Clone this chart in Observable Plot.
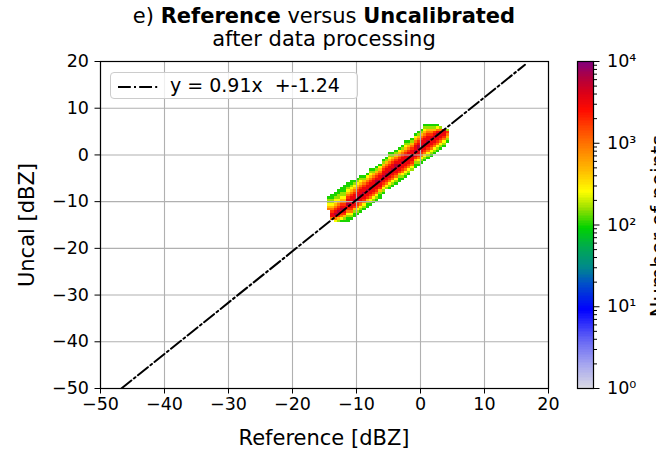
<!DOCTYPE html>
<html><head><meta charset="utf-8">
<script src="https://cdn.jsdelivr.net/npm/d3@7"></script>
<script src="https://cdn.jsdelivr.net/npm/@observablehq/plot@0.6"></script>
<style>
html,body{margin:0;padding:0;background:#fff;}
#wrap{position:relative;width:656px;height:450px;overflow:hidden;font-family:"DejaVu Sans",sans-serif;color:#000;}
.abs{position:absolute;white-space:pre;}
#main,#cbar{position:absolute;top:0;}
#main{left:0;}
#cbar{left:560px;}
</style></head><body><div id="wrap"><div id="main"></div><div id="cbar"></div></div>
<script>
// ---------------- data ----------------
const xTicks = [-50, -40, -30, -20, -10, 0, 10, 20];
const yTicks = [-50, -40, -30, -20, -10, 0, 10, 20];
const fitSlope = 0.91;
const fitIntercept = -1.24;
const lineYRange = [-50, 19.3];          // fit line drawn as x = slope*y + intercept
const binSize = 0.5;                     // histogram bin width (dBZ)
// left edge of each histogram column (Reference, dBZ)
const colX = [-14.5, -14.0, -13.5, -13.0, -12.5, -12.0, -11.5, -11.0, -10.5, -10.0,
  -9.5, -9.0, -8.5, -8.0, -7.5, -7.0, -6.5, -6.0, -5.5, -5.0,
  -4.5, -4.0, -3.5, -3.0, -2.5, -2.0, -1.5, -1.0, -0.5, 0.0,
  0.5, 1.0, 1.5, 2.0, 2.5, 3.0, 3.5, 4.0];
// lower edge of the first filled bin in each column (Uncal, dBZ)
const colY0 = [-12.0, -14.0, -14.5, -14.5, -14.5, -14.5, -14.5, -14.0, -13.5, -13.0,
  -12.5, -12.0, -11.5, -11.0, -10.5, -10.0, -9.5, -8.5, -7.5, -7.5,
  -7.0, -6.5, -6.0, -5.5, -5.0, -4.5, -3.5, -3.0, -2.5, -2.0,
  -1.5, -1.0, -0.5, 0.0, 0.5, 1.0, 1.5, 2.5];
// count level of each bin, bottom to top (index into levelCounts)
const colLevels = [
  "543221", "57765432211", "3578765433211", "24678765432211", "135678765432211",
  "1246787654322111", "11235678776543211", "12356778776543211", "1124677877654321", "1235678877654321",
  "1235677877654321", "123567787765421", "112467787765431", "1235677877654321", "123567787765421",
  "123567788765421", "112467787765431", "123567787765421", "23567787765421", "1235677877654321",
  "123567787765421", "123567788765421", "112467787765431", "123567787765421", "1235677877654321",
  "123567787765421", "23567787765421", "112467787765431", "123567788765421", "123567787765421",
  "1235677877654321", "123567787765421", "12356778765421", "1235677876421", "123567787531",
  "1235677852", "12356778", "124562"];
const levelCounts = [0, 100, 160, 260, 450, 900, 1800, 3200, 6000];
const cbarTickValues = [1, 10, 100, 1000, 10000];
const cbarTickLabels = ["10⁰", "10¹", "10²", "10³", "10⁴"];
const cmapPos = [0, 0.07, 0.15, 0.24, 0.32, 0.37, 0.43, 0.49, 0.55, 0.60, 0.66, 0.73, 0.79, 0.85, 0.90, 0.95, 1];
const cmapColors = ["#d9d9e3", "#a7a7ef", "#6262f5", "#0000ff", "#0050c8", "#008a8a", "#00aa50", "#00d200",
  "#9ae000", "#ffff00", "#ffc000", "#ff8200", "#ff4a00", "#ff0a00", "#dc0016", "#b00040", "#800080"];

// ---------------- build ----------------
const cells = [];
colX.forEach((x, i) => {
  const lv = colLevels[i];
  for (let j = 0; j < lv.length; j++) {
    const k = +lv[j];
    if (!k) continue;
    const y = colY0[i] + j * binSize;
    cells.push({x1: x, x2: x + binSize, y1: y, y2: y + binSize, count: levelCounts[k]});
  }
});
const linePts = lineYRange.map(y => ({x: fitSlope * y + fitIntercept, y}));
const cmapScale = d3.scaleLinear().domain(cmapPos).range(cmapColors).clamp(true);
const cmap = t => cmapScale(t);
const fmt = d => d < 0 ? "\u2212" + Math.abs(d) : String(d);
const dash = "12.8,3.2,2,3.2";
const font = {fontFamily: "DejaVu Sans", fontSize: "17.5px", color: "#000", background: "transparent"};

const main = Plot.plot({
  width: 560, height: 450,
  marginLeft: 100, marginRight: 12, marginTop: 61, marginBottom: 62,
  style: font,
  x: {domain: [-50, 20], label: null},
  y: {domain: [-50, 20], label: null},
  color: {type: "log", domain: [1, 1e4], interpolate: cmap},
  marks: [
    Plot.rect(cells, {x1: "x1", x2: "x2", y1: "y1", y2: "y2", fill: "count", shapeRendering: "crispEdges"}),
    Plot.gridX(xTicks, {stroke: "#b0b0b0", strokeOpacity: 1, strokeWidth: 1.1}),
    Plot.gridY(yTicks, {stroke: "#b0b0b0", strokeOpacity: 1, strokeWidth: 1.1}),
    Plot.line(linePts, {x: "x", y: "y", stroke: "black", strokeWidth: 2, strokeDasharray: dash, clip: true}),
    Plot.frame({stroke: "black", strokeWidth: 1.2}),
    Plot.axisX(xTicks, {tickSize: 5.5, tickPadding: 4, tickFormat: fmt, label: null}),
    Plot.axisY(yTicks, {tickSize: 5.5, tickPadding: 6, tickFormat: fmt, label: null})
  ]
});
document.getElementById("main").appendChild(main);

const cbarSteps = d3.range(0, 4, 0.02);
const minorTicks = [];
for (let e = 0; e < 4; e++) for (let m = 2; m <= 9; m++) minorTicks.push(m * 10 ** e);
const cbar = Plot.plot({
  width: 96, height: 450,
  marginLeft: 17, marginRight: 63, marginTop: 61, marginBottom: 62,
  style: font,
  x: {domain: [0, 1], axis: null},
  y: {type: "log", domain: [1, 1e4], axis: null},
  color: {type: "log", domain: [1, 1e4], interpolate: cmap},
  marks: [
    Plot.rect(cbarSteps, {x1: () => 0, x2: () => 1, y1: d => 10 ** d, y2: d => 10 ** (d + 0.02), fill: d => 10 ** (d + 0.01), shapeRendering: "crispEdges"}),
    Plot.frame({stroke: "black", strokeWidth: 1.2}),
    Plot.axisY(minorTicks, {anchor: "right", tickSize: 3, tickFormat: () => "", label: null}),
    Plot.axisY(cbarTickValues, {anchor: "right", tickSize: 5.5, tickPadding: 8, label: null,
      tickFormat: d => cbarTickLabels[cbarTickValues.indexOf(d)]})
  ]
});
document.getElementById("cbar").appendChild(cbar);

// ---------------- text ----------------
const wrap = document.getElementById("wrap");
function addDiv(html, css) {
  const d = document.createElement("div");
  d.className = "abs";
  d.innerHTML = html;
  Object.assign(d.style, css);
  wrap.appendChild(d);
  return d;
}
addDiv("e) <b>Reference</b> versus <b>Uncalibrated</b>", {left: "0px", width: "648px", textAlign: "center", top: "6px", fontSize: "21px", lineHeight: "21px"});
addDiv("after data processing", {left: "0px", width: "648px", textAlign: "center", top: "29px", fontSize: "21px", lineHeight: "21px"});
addDiv("Reference [dBZ]", {left: "324px", top: "438px", fontSize: "21px", lineHeight: "21px", transform: "translate(-50%,-50%)"});
addDiv("Uncal [dBZ]", {left: "27px", top: "225px", fontSize: "21px", lineHeight: "21px", transform: "translate(-50%,-50%) rotate(-90deg)"});
addDiv("Number of points", {left: "659px", top: "226px", fontSize: "21px", lineHeight: "21px", transform: "translate(-50%,-50%) rotate(-90deg)"});
// legend
const leg = addDiv("", {left: "110px", top: "72px", width: "246px", height: "25px", border: "1px solid #cccccc", borderRadius: "4px", background: "rgba(255,255,255,0.8)"});
leg.innerHTML = `<svg width="40" height="4" style="position:absolute;left:7px;top:12px"><line x1="0" y1="2" x2="40" y2="2" stroke="black" stroke-width="2" stroke-dasharray="${dash}"/></svg>` +
  `<span style="position:absolute;left:59px;top:3px;font-size:19px;line-height:19px;">y = ${fitSlope}x  +${fitIntercept}</span>`;
</script></body></html>
